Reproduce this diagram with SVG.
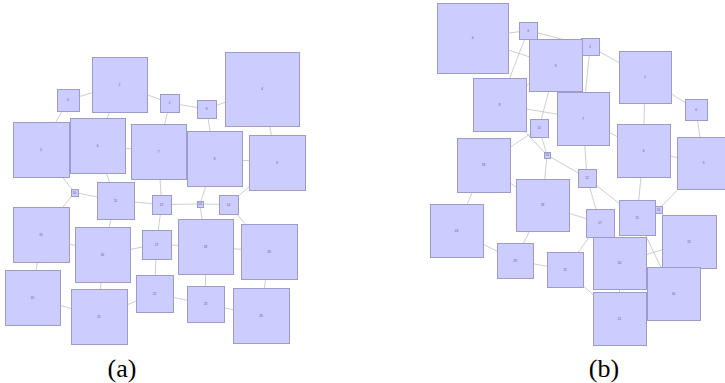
<svg xmlns="http://www.w3.org/2000/svg" width="725" height="383" viewBox="0 0 725 383">
<style>
.e{stroke:#c2c2c2;stroke-width:0.8;fill:none}
.n rect{fill:#ccccff;stroke:#9c9cca;stroke-width:1}
.n text{font-family:"Liberation Sans",Arial,sans-serif;font-size:3px;fill:#555577;text-anchor:middle;dominant-baseline:central}
.cap{font-family:"Liberation Serif","Times New Roman",serif;font-size:26px;fill:#000;text-anchor:middle}
</style>
<rect width="725" height="383" fill="#ffffff"/>
<g id="edges-a" class="e">
<line x1="68" y1="100" x2="119.5" y2="84.5"/>
<line x1="119.5" y1="84.5" x2="169.5" y2="103"/>
<line x1="169.5" y1="103" x2="206.5" y2="109"/>
<line x1="206.5" y1="109" x2="262" y2="89"/>
<line x1="41" y1="149.5" x2="97.5" y2="145.5"/>
<line x1="97.5" y1="145.5" x2="158.5" y2="151.5"/>
<line x1="158.5" y1="151.5" x2="214.5" y2="158.5"/>
<line x1="214.5" y1="158.5" x2="277" y2="162.5"/>
<line x1="74.5" y1="192.5" x2="115.5" y2="200.5"/>
<line x1="115.5" y1="200.5" x2="161.5" y2="204.5"/>
<line x1="161.5" y1="204.5" x2="200" y2="204"/>
<line x1="200" y1="204" x2="228.5" y2="204.5"/>
<line x1="41" y1="234.5" x2="102.5" y2="254.5"/>
<line x1="102.5" y1="254.5" x2="156.5" y2="244.5"/>
<line x1="156.5" y1="244.5" x2="205.5" y2="246.5"/>
<line x1="205.5" y1="246.5" x2="269" y2="251.5"/>
<line x1="32.5" y1="297.5" x2="99" y2="316.5"/>
<line x1="99" y1="316.5" x2="154.5" y2="293.5"/>
<line x1="154.5" y1="293.5" x2="205.5" y2="304"/>
<line x1="205.5" y1="304" x2="261" y2="315.5"/>
<line x1="68" y1="100" x2="41" y2="149.5"/>
<line x1="119.5" y1="84.5" x2="97.5" y2="145.5"/>
<line x1="169.5" y1="103" x2="158.5" y2="151.5"/>
<line x1="206.5" y1="109" x2="214.5" y2="158.5"/>
<line x1="262" y1="89" x2="277" y2="162.5"/>
<line x1="41" y1="149.5" x2="74.5" y2="192.5"/>
<line x1="97.5" y1="145.5" x2="115.5" y2="200.5"/>
<line x1="158.5" y1="151.5" x2="161.5" y2="204.5"/>
<line x1="214.5" y1="158.5" x2="200" y2="204"/>
<line x1="277" y1="162.5" x2="228.5" y2="204.5"/>
<line x1="74.5" y1="192.5" x2="41" y2="234.5"/>
<line x1="115.5" y1="200.5" x2="102.5" y2="254.5"/>
<line x1="161.5" y1="204.5" x2="156.5" y2="244.5"/>
<line x1="200" y1="204" x2="205.5" y2="246.5"/>
<line x1="228.5" y1="204.5" x2="269" y2="251.5"/>
<line x1="41" y1="234.5" x2="32.5" y2="297.5"/>
<line x1="102.5" y1="254.5" x2="99" y2="316.5"/>
<line x1="156.5" y1="244.5" x2="154.5" y2="293.5"/>
<line x1="205.5" y1="246.5" x2="205.5" y2="304"/>
<line x1="269" y1="251.5" x2="261" y2="315.5"/>
</g>
<g id="edges-b" class="e">
<line x1="696" y1="109.5" x2="645" y2="77"/>
<line x1="645" y1="77" x2="590" y2="46.5"/>
<line x1="590" y1="46.5" x2="528" y2="30.5"/>
<line x1="528" y1="30.5" x2="472.5" y2="38"/>
<line x1="703.5" y1="163" x2="643.5" y2="150.5"/>
<line x1="643.5" y1="150.5" x2="583" y2="118.5"/>
<line x1="583" y1="118.5" x2="499.5" y2="104.5"/>
<line x1="499.5" y1="104.5" x2="555.5" y2="65.5"/>
<line x1="658.5" y1="209.5" x2="637" y2="217.5"/>
<line x1="637" y1="217.5" x2="587" y2="178"/>
<line x1="587" y1="178" x2="547" y2="155"/>
<line x1="547" y1="155" x2="539" y2="128"/>
<line x1="689" y1="241.5" x2="673.5" y2="293.5"/>
<line x1="673.5" y1="293.5" x2="600" y2="223"/>
<line x1="600" y1="223" x2="542.5" y2="205"/>
<line x1="542.5" y1="205" x2="483.5" y2="165"/>
<line x1="619.5" y1="263" x2="619.5" y2="318.5"/>
<line x1="619.5" y1="318.5" x2="565" y2="269.5"/>
<line x1="565" y1="269.5" x2="515" y2="260.5"/>
<line x1="515" y1="260.5" x2="456.5" y2="230.5"/>
<line x1="696" y1="109.5" x2="703.5" y2="163"/>
<line x1="645" y1="77" x2="643.5" y2="150.5"/>
<line x1="590" y1="46.5" x2="583" y2="118.5"/>
<line x1="528" y1="30.5" x2="499.5" y2="104.5"/>
<line x1="472.5" y1="38" x2="555.5" y2="65.5"/>
<line x1="703.5" y1="163" x2="658.5" y2="209.5"/>
<line x1="643.5" y1="150.5" x2="637" y2="217.5"/>
<line x1="583" y1="118.5" x2="587" y2="178"/>
<line x1="499.5" y1="104.5" x2="547" y2="155"/>
<line x1="555.5" y1="65.5" x2="539" y2="128"/>
<line x1="658.5" y1="209.5" x2="689" y2="241.5"/>
<line x1="637" y1="217.5" x2="673.5" y2="293.5"/>
<line x1="587" y1="178" x2="600" y2="223"/>
<line x1="547" y1="155" x2="542.5" y2="205"/>
<line x1="539" y1="128" x2="483.5" y2="165"/>
<line x1="689" y1="241.5" x2="619.5" y2="263"/>
<line x1="673.5" y1="293.5" x2="619.5" y2="318.5"/>
<line x1="600" y1="223" x2="565" y2="269.5"/>
<line x1="542.5" y1="205" x2="515" y2="260.5"/>
<line x1="483.5" y1="165" x2="456.5" y2="230.5"/>
</g>
<g id="a1" class="n"><rect x="57.5" y="89.5" width="22" height="22"/><text x="68" y="100">0</text></g>
<g id="a2" class="n"><rect x="92.5" y="57.5" width="55" height="55"/><text x="119.5" y="84.5">1</text></g>
<g id="a3" class="n"><rect x="160.5" y="94.5" width="19" height="18"/><text x="169.5" y="103">2</text></g>
<g id="a4" class="n"><rect x="197.5" y="100.5" width="19" height="18"/><text x="206.5" y="109">3</text></g>
<g id="a5" class="n"><rect x="225.5" y="52.5" width="74" height="74"/><text x="262" y="89">4</text></g>
<g id="a6" class="n"><rect x="13.5" y="122.5" width="56" height="55"/><text x="41" y="149.5">5</text></g>
<g id="a7" class="n"><rect x="70.5" y="118.5" width="55" height="55"/><text x="97.5" y="145.5">6</text></g>
<g id="a8" class="n"><rect x="131.5" y="124.5" width="55" height="55"/><text x="158.5" y="151.5">7</text></g>
<g id="a9" class="n"><rect x="187.5" y="131.5" width="55" height="55"/><text x="214.5" y="158.5">8</text></g>
<g id="a10" class="n"><rect x="249.5" y="135.5" width="56" height="55"/><text x="277" y="162.5">9</text></g>
<g id="a11" class="n"><rect x="71.5" y="189.5" width="7" height="7"/><text x="74.5" y="192.5">10</text></g>
<g id="a12" class="n"><rect x="97.5" y="182.5" width="37" height="37"/><text x="115.5" y="200.5">11</text></g>
<g id="a13" class="n"><rect x="152.5" y="195.5" width="19" height="19"/><text x="161.5" y="204.5">12</text></g>
<g id="a14" class="n"><rect x="197.5" y="201.5" width="6" height="6"/><text x="200" y="204">13</text></g>
<g id="a15" class="n"><rect x="219.5" y="195.5" width="19" height="19"/><text x="228.5" y="204.5">14</text></g>
<g id="a16" class="n"><rect x="13.5" y="207.5" width="56" height="55"/><text x="41" y="234.5">15</text></g>
<g id="a17" class="n"><rect x="75.5" y="227.5" width="55" height="55"/><text x="102.5" y="254.5">16</text></g>
<g id="a18" class="n"><rect x="142.5" y="230.5" width="29" height="29"/><text x="156.5" y="244.5">17</text></g>
<g id="a19" class="n"><rect x="178.5" y="219.5" width="55" height="55"/><text x="205.5" y="246.5">18</text></g>
<g id="a20" class="n"><rect x="241.5" y="224.5" width="56" height="55"/><text x="269" y="251.5">19</text></g>
<g id="a21" class="n"><rect x="5.5" y="270.5" width="55" height="55"/><text x="32.5" y="297.5">20</text></g>
<g id="a22" class="n"><rect x="71.5" y="289.5" width="56" height="55"/><text x="99" y="316.5">21</text></g>
<g id="a23" class="n"><rect x="136.5" y="275.5" width="37" height="37"/><text x="154.5" y="293.5">22</text></g>
<g id="a24" class="n"><rect x="187.5" y="286.5" width="37" height="36"/><text x="205.5" y="304">23</text></g>
<g id="a25" class="n"><rect x="233.5" y="288.5" width="56" height="55"/><text x="261" y="315.5">24</text></g>
<g id="b1" class="n"><rect x="685.5" y="99.5" width="22" height="21"/><text x="696" y="109.5">0</text></g>
<g id="b2" class="n"><rect x="619.5" y="51.5" width="52" height="52"/><text x="645" y="77">1</text></g>
<g id="b3" class="n"><rect x="581.5" y="38.5" width="18" height="17"/><text x="590" y="46.5">2</text></g>
<g id="b4" class="n"><rect x="519.5" y="22.5" width="18" height="17"/><text x="528" y="30.5">3</text></g>
<g id="b5" class="n"><rect x="437.5" y="3.5" width="71" height="70"/><text x="472.5" y="38">4</text></g>
<g id="b6" class="n"><rect x="677.5" y="137.5" width="53" height="52"/><text x="703.5" y="163">5</text></g>
<g id="b7" class="n"><rect x="617.5" y="124.5" width="53" height="53"/><text x="643.5" y="150.5">6</text></g>
<g id="b8" class="n"><rect x="557.5" y="92.5" width="52" height="53"/><text x="583" y="118.5">7</text></g>
<g id="b9" class="n"><rect x="473.5" y="78.5" width="53" height="53"/><text x="499.5" y="104.5">8</text></g>
<g id="b10" class="n"><rect x="529.5" y="39.5" width="53" height="52"/><text x="555.5" y="65.5">9</text></g>
<g id="b11" class="n"><rect x="655.5" y="206.5" width="7" height="7"/><text x="658.5" y="209.5">10</text></g>
<g id="b12" class="n"><rect x="619.5" y="200.5" width="36" height="35"/><text x="637" y="217.5">11</text></g>
<g id="b13" class="n"><rect x="578.5" y="169.5" width="18" height="18"/><text x="587" y="178">12</text></g>
<g id="b14" class="n"><rect x="544.5" y="152.5" width="6" height="6"/><text x="547" y="155">13</text></g>
<g id="b15" class="n"><rect x="530.5" y="119.5" width="18" height="18"/><text x="539" y="128">14</text></g>
<g id="b16" class="n"><rect x="662.5" y="215.5" width="54" height="53"/><text x="689" y="241.5">15</text></g>
<g id="b17" class="n"><rect x="647.5" y="267.5" width="53" height="53"/><text x="673.5" y="293.5">16</text></g>
<g id="b18" class="n"><rect x="586.5" y="209.5" width="28" height="28"/><text x="600" y="223">17</text></g>
<g id="b19" class="n"><rect x="516.5" y="179.5" width="53" height="52"/><text x="542.5" y="205">18</text></g>
<g id="b20" class="n"><rect x="457.5" y="138.5" width="53" height="54"/><text x="483.5" y="165">19</text></g>
<g id="b21" class="n"><rect x="593.5" y="237.5" width="53" height="52"/><text x="619.5" y="263">20</text></g>
<g id="b22" class="n"><rect x="593.5" y="292.5" width="53" height="53"/><text x="619.5" y="318.5">21</text></g>
<g id="b23" class="n"><rect x="547.5" y="252.5" width="36" height="35"/><text x="565" y="269.5">22</text></g>
<g id="b24" class="n"><rect x="497.5" y="243.5" width="36" height="35"/><text x="515" y="260.5">23</text></g>
<g id="b25" class="n"><rect x="430.5" y="204.5" width="53" height="53"/><text x="456.5" y="230.5">24</text></g>
<text class="cap" x="122" y="377">(a)</text>
<text class="cap" x="604" y="377">(b)</text>
</svg>
